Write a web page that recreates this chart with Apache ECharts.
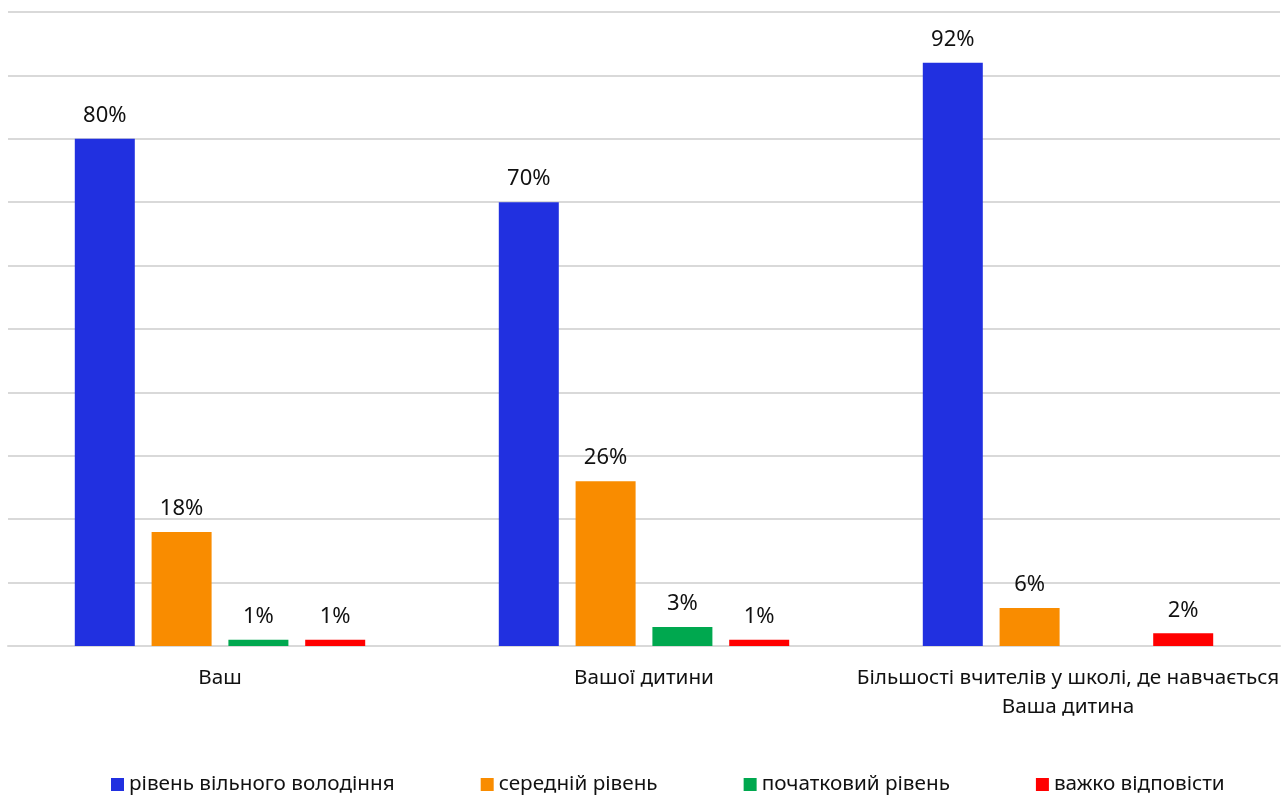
<!DOCTYPE html>
<html><head><meta charset="utf-8">
<script src="https://cdn.jsdelivr.net/npm/echarts@6/dist/echarts.min.js"></script>
<style>html,body{margin:0;padding:0;background:#fff}#c{width:1287px;height:798px}</style>
</head><body><div id="c"></div>
<script>
var categories = ['Ваш', 'Вашої дитини', 'Більшості вчителів у школі, де навчається\nВаша дитина'];
var seriesNames = ['рівень вільного володіння', 'середній рівень', 'початковий рівень', 'важко відповісти'];
var fluent = [80, 70, 92];
var medium = [18, 26, 6];
var beginner = [1, 3, null];
var hard = [1, 1, 2];
var colors = ['#2130E0', '#F98C00', '#00A84F', '#FF0000'];
var values = [fluent, medium, beginner, hard];
var font = 'Noto Sans';
var chart = echarts.init(document.getElementById('c'));
chart.setOption({
  animation: false,
  textStyle: {fontFamily: font},
  grid: {left: 8, right: 7, top: 12, bottom: 152, containLabel: false},
  legend: {
    bottom: -2, left: 106, itemWidth: 13, itemHeight: 13, itemGap: 86,
    icon: 'rect',
    textStyle: {fontSize: 20.7, color: '#111', fontFamily: font},
    data: seriesNames
  },
  xAxis: {
    type: 'category', data: categories,
    axisLine: {lineStyle: {color: '#d9d9d9', width: 2}},
    axisTick: {show: false},
    axisLabel: {fontSize: 20.7, color: '#111', margin: 18, lineHeight: 29, interval: 0}
  },
  yAxis: {
    type: 'value', min: 0, max: 100, interval: 10,
    axisLabel: {show: false}, axisLine: {show: false}, axisTick: {show: false},
    splitLine: {lineStyle: {color: '#d9d9d9', width: 2}}
  },
  series: seriesNames.map(function (n, i) {
    return {
      name: n, type: 'bar', data: values[i], barWidth: 60, barGap: '28%',
      itemStyle: {color: colors[i]},
      label: {show: true, position: 'top', distance: 12, fontSize: 22, color: '#111',
        formatter: function (p) { return p.value == null ? '' : p.value + '%'; }}
    };
  })
});
</script></body></html>
